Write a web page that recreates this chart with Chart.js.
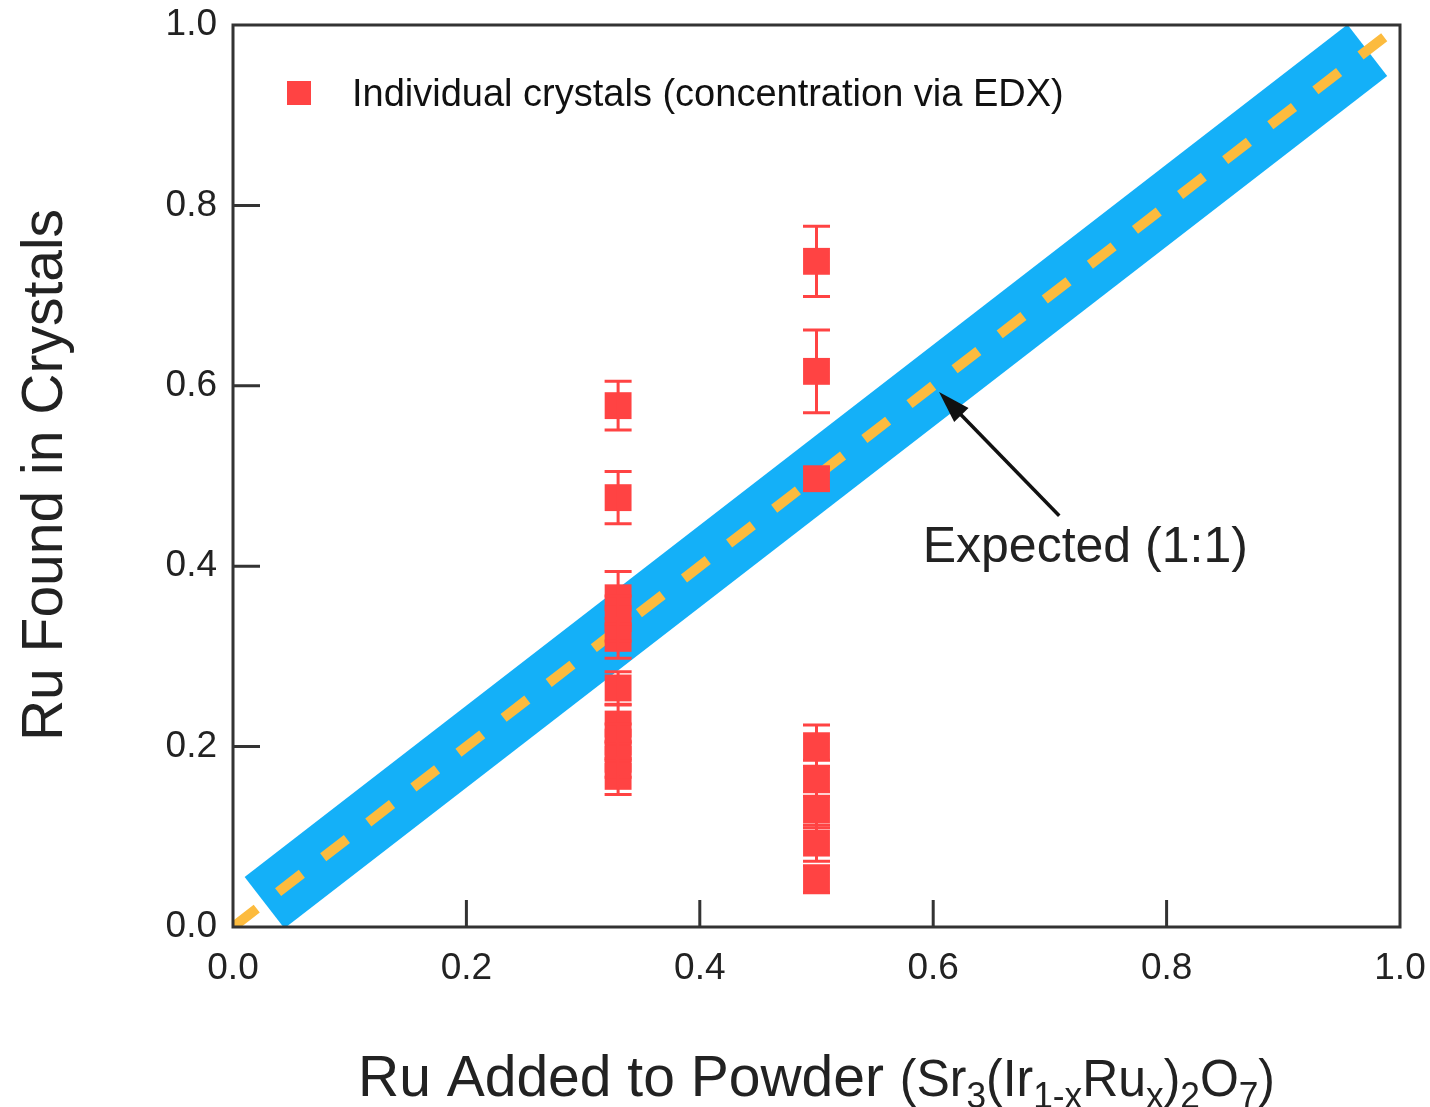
<!DOCTYPE html>
<html>
<head>
<meta charset="utf-8">
<title>Ru found vs Ru added</title>
<script src="https://cdn.jsdelivr.net/npm/chart.js@4/dist/chart.umd.min.js"></script>
<style>
  html, body { margin: 0; padding: 0; background: #fff; }
  #wrap { width: 1430px; height: 1107px; }
</style>
</head>
<body>
<div id="wrap"><canvas id="ruChart" width="1430" height="1107"></canvas></div>
<script>
// --- data ---
const ruAdded = [0.33, 0.33, 0.33, 0.33, 0.33, 0.33, 0.33, 0.33, 0.33, 0.33,
                 0.5, 0.5, 0.5, 0.5, 0.5, 0.5, 0.5, 0.5];
const ruFound = [0.578, 0.476, 0.365, 0.342, 0.320, 0.265, 0.225, 0.205, 0.186, 0.167,
                 0.738, 0.616, 0.497, 0.201, 0.165, 0.130, 0.093, 0.053];
const ruError = [0.027, 0.029, 0.029, 0.025, 0.022, 0.018, 0.021, 0.020, 0.020, 0.020,
                 0.039, 0.046, 0.012, 0.023, 0.020, 0.020, 0.020, 0.015];

// expected 1:1 line (band + dashed centre line)
const bandX = [0.027, 0.972];
const dashX = [0, 0.987];

const tickValues = [0, 0.2, 0.4, 0.6, 0.8, 1.0];

const legendText = 'Individual crystals (concentration via EDX)';
const expectedText = 'Expected (1:1)';
const yTitle = 'Ru Found in Crystals';
const xTitle = 'Ru Added to Powder ';

const RED = '#ff4343';
const BLUE = '#14b0f8';
const ORANGE = '#fcbb3e';
const INK = '#333333';
const FONT = '"Liberation Sans", Arial, sans-serif';

// ----------------------------------------------------
// custom drawing: frame, inward ticks, error bars, legend, titles
// ----------------------------------------------------
const decorPlugin = {
  id: 'decor',
  afterDatasetsDraw(chart) {
    const ctx = chart.ctx;
    const xs = chart.scales.x, ys = chart.scales.y;
    // error bars
    ctx.save();
    ctx.strokeStyle = RED;
    ctx.lineWidth = 3;
    ctx.lineCap = 'butt';
    for (let i = 0; i < ruFound.length; i++) {
      const px = xs.getPixelForValue(ruAdded[i]);
      const top = ys.getPixelForValue(ruFound[i] + ruError[i]);
      const bot = ys.getPixelForValue(ruFound[i] - ruError[i]);
      ctx.beginPath();
      ctx.moveTo(px, top); ctx.lineTo(px, bot);
      ctx.moveTo(px - 13.5, top); ctx.lineTo(px + 13.5, top);
      ctx.moveTo(px - 13.5, bot); ctx.lineTo(px + 13.5, bot);
      ctx.stroke();
    }
    ctx.restore();
  },
  afterDraw(chart) {
    const ctx = chart.ctx;
    const a = chart.chartArea;
    const xs = chart.scales.x, ys = chart.scales.y;
    ctx.save();

    // frame
    ctx.strokeStyle = INK;
    ctx.lineWidth = 3;
    ctx.strokeRect(a.left, a.top, a.right - a.left, a.bottom - a.top);

    // inward tick marks
    ctx.beginPath();
    tickValues.slice(1, -1).forEach(v => {
      const px = xs.getPixelForValue(v);
      ctx.moveTo(px, a.bottom); ctx.lineTo(px, a.bottom - 27);
      const py = ys.getPixelForValue(v);
      ctx.moveTo(a.left, py); ctx.lineTo(a.left + 27, py);
    });
    ctx.stroke();

    // legend
    ctx.fillStyle = RED;
    ctx.fillRect(287, 81, 24, 24);
    ctx.fillStyle = '#111';
    ctx.font = '38px ' + FONT;
    ctx.textBaseline = 'alphabetic';
    ctx.textAlign = 'left';
    ctx.fillText(legendText, 352, 106);

    // annotation: Expected (1:1) with arrow
    ctx.fillStyle = '#222';
    ctx.font = '50px ' + FONT;
    ctx.fillText(expectedText, xs.getPixelForValue(0.591), ys.getPixelForValue(0.405));
    const tx = xs.getPixelForValue(0.708), ty = ys.getPixelForValue(0.456);
    const hx = xs.getPixelForValue(0.605), hy = ys.getPixelForValue(0.593);
    const ang = Math.atan2(hy - ty, hx - tx);
    ctx.strokeStyle = '#111';
    ctx.lineWidth = 3.5;
    ctx.beginPath();
    ctx.moveTo(tx, ty);
    ctx.lineTo(hx - Math.cos(ang) * 20, hy - Math.sin(ang) * 20);
    ctx.stroke();
    ctx.fillStyle = '#111';
    ctx.beginPath();
    ctx.moveTo(hx, hy);
    ctx.lineTo(hx - Math.cos(ang) * 32 + Math.sin(ang) * 10, hy - Math.sin(ang) * 32 - Math.cos(ang) * 10);
    ctx.lineTo(hx - Math.cos(ang) * 32 - Math.sin(ang) * 10, hy - Math.sin(ang) * 32 + Math.cos(ang) * 10);
    ctx.closePath();
    ctx.fill();

    // y title
    ctx.fillStyle = '#222';
    ctx.save();
    ctx.translate(62, 475);
    ctx.rotate(-Math.PI / 2);
    ctx.font = '57px ' + FONT;
    ctx.textAlign = 'center';
    ctx.fillText(yTitle, 0, 0);
    ctx.restore();

    // x title with the formula in a condensed face
    ctx.font = '57px ' + FONT;
    ctx.textAlign = 'left';
    let x = 358;
    const base = 1096;
    ctx.fillText(xTitle, x, base);
    x += ctx.measureText(xTitle).width;
    const parts = [
      ['(Sr', 0], ['3', 1], ['(Ir', 0], ['1-x', 1], ['Ru', 0], ['x', 1],
      [')', 0], ['2', 1], ['O', 0], ['7', 1], [')', 0]
    ];
    const mainF = '51px ' + FONT, subF = '36px ' + FONT;
    let w = 0;
    parts.forEach(p => { ctx.font = p[1] ? subF : mainF; w += ctx.measureText(p[0]).width; });
    const sx = (1275 - x) / w;
    ctx.save();
    ctx.translate(x, base);
    ctx.scale(sx, 1);
    let cx = 0;
    parts.forEach(p => {
      ctx.font = p[1] ? subF : mainF;
      ctx.fillText(p[0], cx, p[1] ? 12 : 0);
      cx += ctx.measureText(p[0]).width;
    });
    ctx.restore();

    ctx.restore();
  }
};

// tick labels hanging past the plot edges should not shrink the plot
function noEdgePadding(s) {
  s.paddingLeft = 0; s.paddingRight = 0; s.paddingTop = 0; s.paddingBottom = 0;
}

// ----------------------------------------------------
// chart
// ----------------------------------------------------
const ctx = document.getElementById('ruChart').getContext('2d');
const ruChart = new Chart(ctx, {
  type: 'scatter',
  data: {
    datasets: [
      {
        label: legendText,
        data: ruAdded.map((v, i) => ({ x: v, y: ruFound[i] })),
        pointStyle: 'rect',
        pointRadius: 19,
        backgroundColor: RED,
        borderWidth: 0,
        order: 0
      },
      {
        type: 'line',
        label: 'expected dashed',
        data: dashX.map(v => ({ x: v, y: v })),
        borderColor: ORANGE,
        borderWidth: 10,
        borderDash: [30, 27],
        borderCapStyle: 'butt',
        pointRadius: 0,
        fill: false,
        order: 1
      },
      {
        type: 'line',
        label: 'expected band',
        data: bandX.map(v => ({ x: v, y: v })),
        borderColor: BLUE,
        borderWidth: 65,
        borderCapStyle: 'butt',
        pointRadius: 0,
        fill: false,
        order: 2
      }
    ]
  },
  options: {
    responsive: false,
    animation: false,
    events: [],
    layout: { padding: { top: 25, right: 30, left: 0, bottom: 0 } },
    plugins: { legend: { display: false }, tooltip: { enabled: false } },
    scales: {
      x: {
        type: 'linear',
        min: 0, max: 1,
        afterFit(s) { s.height = 180; noEdgePadding(s); },
        afterBuildTicks(s) { s.ticks = tickValues.map(v => ({ value: v })); },
        grid: { display: false, drawTicks: false },
        border: { display: false },
        ticks: {
          color: '#222',
          font: { family: FONT, size: 37 },
          padding: 20,
          maxRotation: 0,
          callback: v => v.toFixed(1)
        }
      },
      y: {
        type: 'linear',
        min: 0, max: 1,
        afterFit(s) { s.width = 233; noEdgePadding(s); },
        afterBuildTicks(s) { s.ticks = tickValues.map(v => ({ value: v })); },
        grid: { display: false, drawTicks: false },
        border: { display: false },
        ticks: {
          color: '#222',
          font: { family: FONT, size: 37 },
          padding: 16,
          callback: v => v.toFixed(1)
        }
      }
    }
  },
  plugins: [decorPlugin]
});
</script>
</body>
</html>
